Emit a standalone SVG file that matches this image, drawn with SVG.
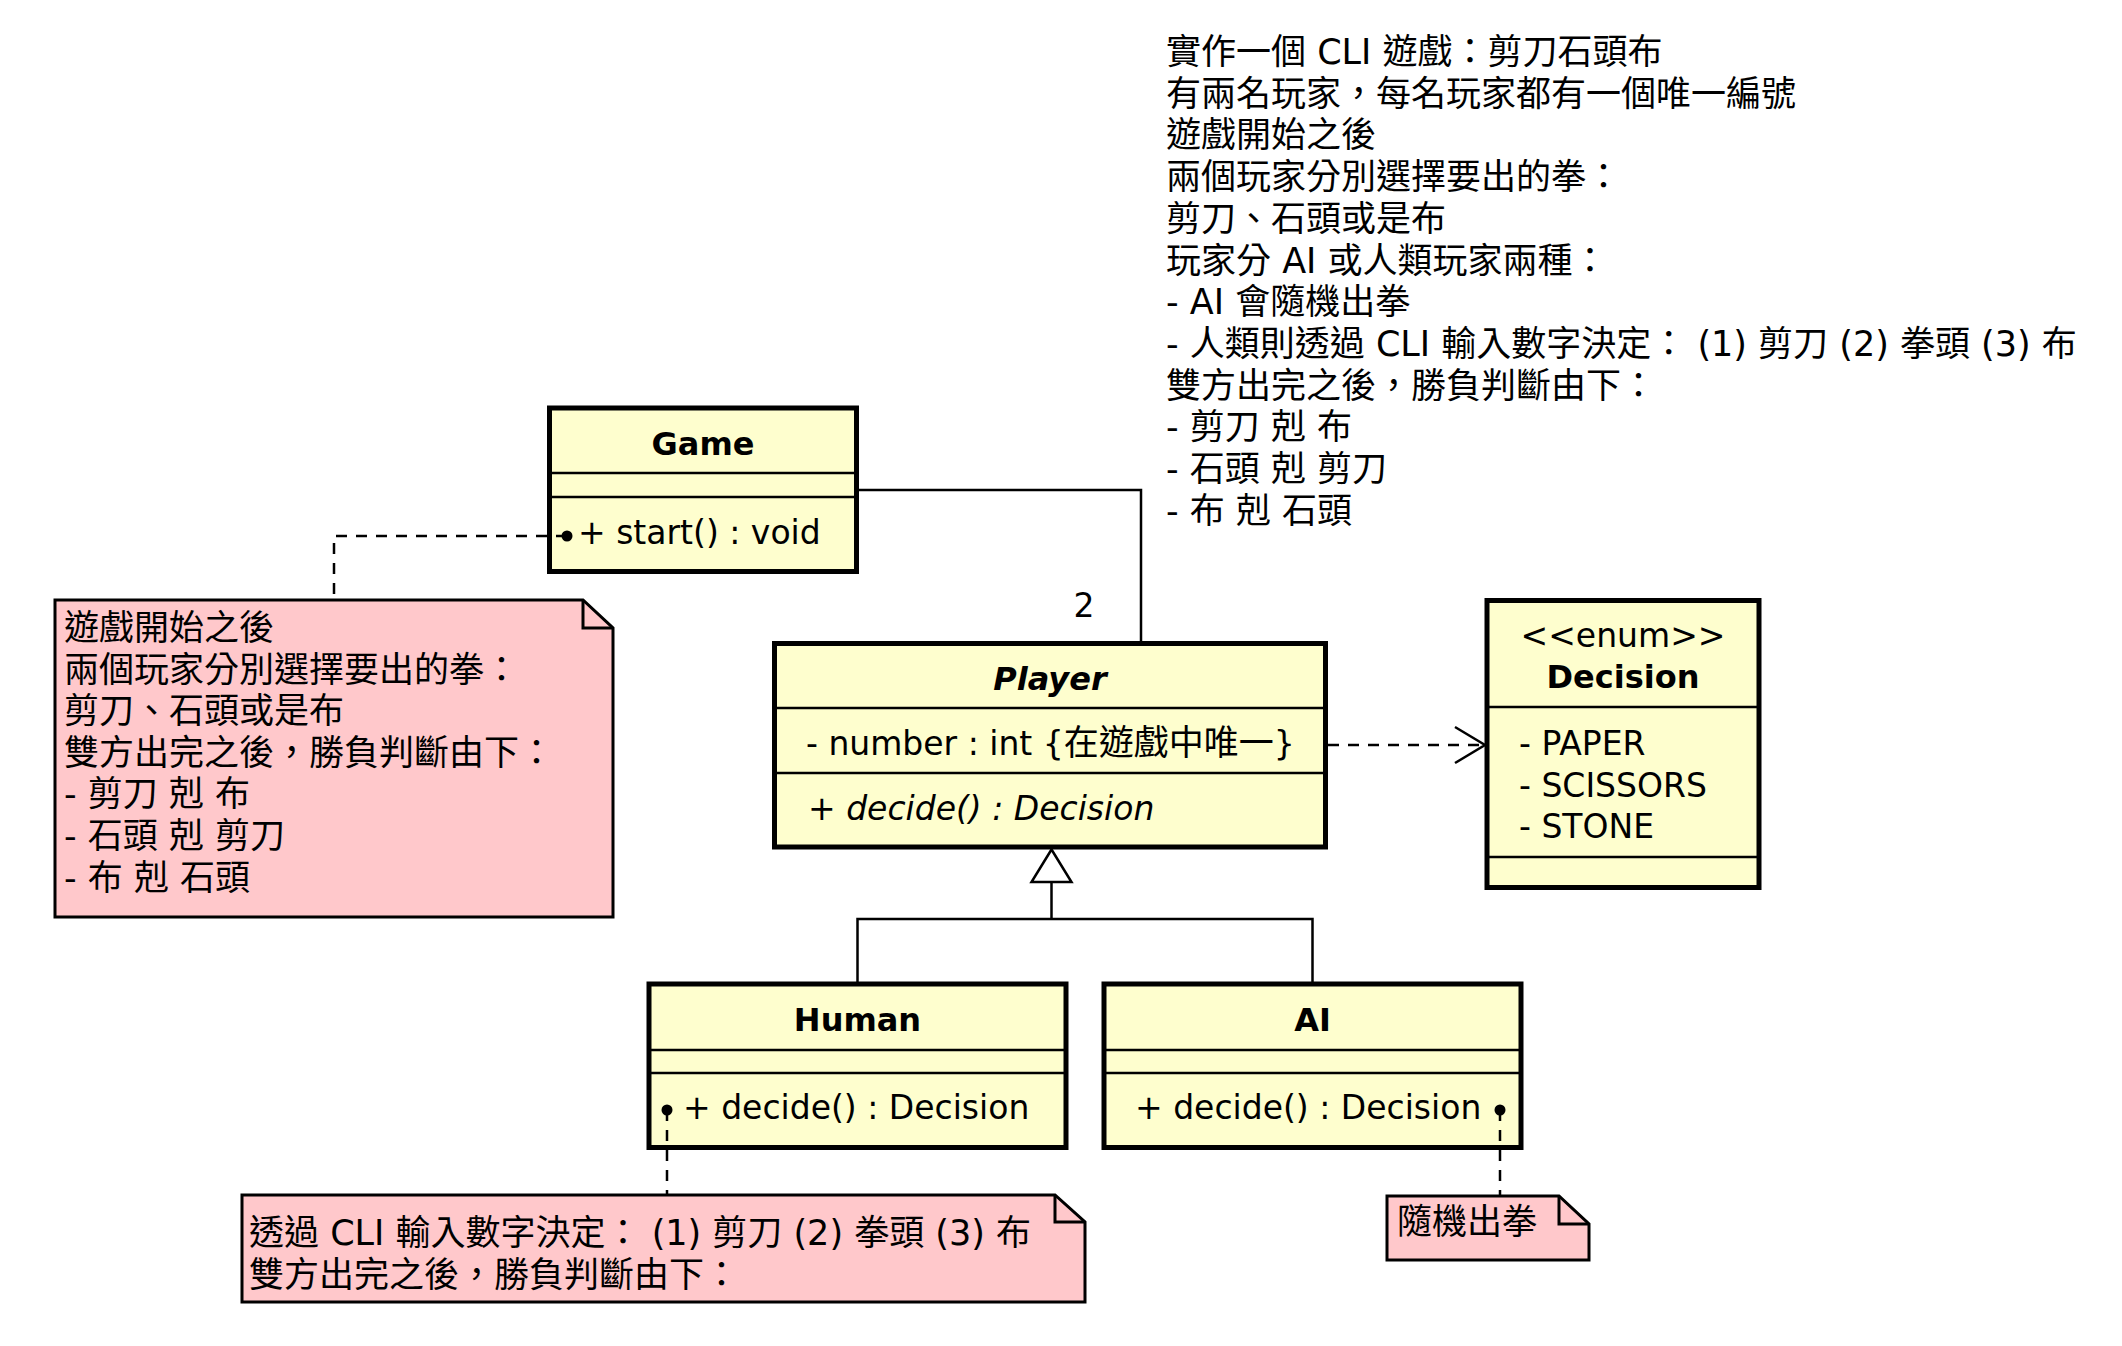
<svg xmlns="http://www.w3.org/2000/svg" width="2122" height="1346" viewBox="0 0 2122 1346">
<defs>
<style>
.box{fill:#FEFECE;stroke:#000;stroke-width:5}
.div{stroke:#000;stroke-width:2.5}
.note{fill:#FFC8CB;stroke:#000;stroke-width:3}
.fold{fill:none;stroke:#000;stroke-width:3}
.t{font-family:"DejaVu Sans","Noto Sans CJK TC",sans-serif;font-size:33px;fill:#000}
.b{font-weight:bold;font-size:32px}
.i{font-style:italic}
.c{text-anchor:middle}
.n{font-family:"DejaVu Sans","Noto Sans CJK TC",sans-serif;font-size:35px;fill:#000}
.k{font-family:"Noto Sans CJK TC",sans-serif;font-size:35px}
.line{fill:none;stroke:#000;stroke-width:2.5}
.dash{fill:none;stroke:#000;stroke-width:2.5;stroke-dasharray:11 9}
</style>
</defs>
<rect width="2122" height="1346" fill="#fff"/>

<g id="requirements" class="n">
<text x="1166" y="64">實作一個 CLI 遊戲：剪刀石頭布</text>
<text x="1166" y="105.7">有兩名玩家，每名玩家都有一個唯一編號</text>
<text x="1166" y="147.4">遊戲開始之後</text>
<text x="1166" y="189.1">兩個玩家分別選擇要出的拳：</text>
<text x="1166" y="230.8">剪刀、石頭或是布</text>
<text x="1166" y="272.5">玩家分 AI 或人類玩家兩種：</text>
<text x="1166" y="314.2">- AI 會隨機出拳</text>
<text x="1166" y="355.9">- 人類則透過 CLI 輸入數字決定： (1) 剪刀 (2) 拳頭 (3) 布</text>
<text x="1166" y="397.6">雙方出完之後，勝負判斷由下：</text>
<text x="1166" y="439.3">- 剪刀 剋 布</text>
<text x="1166" y="481">- 石頭 剋 剪刀</text>
<text x="1166" y="522.7">- 布 剋 石頭</text>
</g>

<g id="Game">
<rect class="box" x="549.5" y="408" width="307" height="163.5"/>
<line class="div" x1="549.5" y1="473" x2="856.5" y2="473"/>
<line class="div" x1="549.5" y1="497" x2="856.5" y2="497"/>
<text class="t b c" x="703" y="455">Game</text>
<text class="t" x="578" y="544">+ start() : void</text>
</g>

<g id="Player">
<rect class="box" x="774.5" y="643.5" width="551" height="203.5"/>
<line class="div" x1="774.5" y1="708" x2="1325.5" y2="708"/>
<line class="div" x1="774.5" y1="773" x2="1325.5" y2="773"/>
<text class="t b i c" x="1050" y="690">Player</text>
<text class="t" x="806" y="755">- number : int {<tspan class="k">在遊戲中唯一</tspan>}</text>
<text class="t i" x="808" y="820">+ decide() : Decision</text>
</g>

<g id="Decision">
<rect class="box" x="1487" y="600.5" width="272" height="287"/>
<line class="div" x1="1487" y1="707" x2="1759" y2="707"/>
<line class="div" x1="1487" y1="857" x2="1759" y2="857"/>
<text class="t c" x="1623" y="647">&lt;&lt;enum&gt;&gt;</text>
<text class="t b c" x="1623" y="688">Decision</text>
<text class="t" x="1519" y="755">- PAPER</text>
<text class="t" x="1519" y="796.5">- SCISSORS</text>
<text class="t" x="1519" y="838">- STONE</text>
</g>

<g id="Human">
<rect class="box" x="649" y="984" width="417" height="163.5"/>
<line class="div" x1="649" y1="1050" x2="1066" y2="1050"/>
<line class="div" x1="649" y1="1073" x2="1066" y2="1073"/>
<text class="t b c" x="857.5" y="1031">Human</text>
<text class="t" x="683" y="1119">+ decide() : Decision</text>
</g>

<g id="AI">
<rect class="box" x="1104" y="984" width="417" height="163.5"/>
<line class="div" x1="1104" y1="1050" x2="1521" y2="1050"/>
<line class="div" x1="1104" y1="1073" x2="1521" y2="1073"/>
<text class="t b c" x="1312.5" y="1031">AI</text>
<text class="t" x="1135" y="1119">+ decide() : Decision</text>
</g>

<g id="note-game">
<path class="note" d="M55,600 H583 L613,628 V917 H55 Z"/>
<path class="fold" d="M583,600 V628 H613"/>
<g class="n">
<text x="64" y="640">遊戲開始之後</text>
<text x="64" y="681.6">兩個玩家分別選擇要出的拳：</text>
<text x="64" y="723.2">剪刀、石頭或是布</text>
<text x="64" y="764.8">雙方出完之後，勝負判斷由下：</text>
<text x="64" y="806.4">- 剪刀 剋 布</text>
<text x="64" y="848">- 石頭 剋 剪刀</text>
<text x="64" y="889.6">- 布 剋 石頭</text>
</g>
</g>

<g id="note-human">
<path class="note" d="M242,1195 H1055 L1085,1222 V1302 H242 Z"/>
<path class="fold" d="M1055,1195 V1222 H1085"/>
<g class="n">
<text x="249" y="1245">透過 CLI 輸入數字決定： (1) 剪刀 (2) 拳頭 (3) 布</text>
<text x="249" y="1287">雙方出完之後，勝負判斷由下：</text>
</g>
</g>

<g id="note-ai">
<path class="note" d="M1387,1196 H1559 L1589,1224 V1260 H1387 Z"/>
<path class="fold" d="M1559,1196 V1224 H1589"/>
<text class="n" x="1397" y="1234">隨機出拳</text>
</g>

<g id="connectors">
<polyline class="line" points="856.5,490 1141,490 1141,643.5"/>
<text class="t c" x="1084" y="617">2</text>
<line class="dash" x1="1328" y1="745" x2="1483" y2="745"/>
<polyline class="line" points="1455,727 1485,745 1455,763"/>
<polyline class="line" points="857.5,983 857.5,919 1312.5,919 1312.5,983"/>
<line class="line" x1="1051.5" y1="882" x2="1051.5" y2="919"/>
<polygon points="1051.5,849.5 1031.5,882 1071.5,882" fill="#fff" stroke="#000" stroke-width="2.5"/>
<path class="dash" d="M567,536 H334 V600"/>
<circle cx="567" cy="536" r="5.5" fill="#000"/>
<path class="dash" d="M667,1110 V1195"/>
<circle cx="667" cy="1110" r="5.5" fill="#000"/>
<path class="dash" d="M1500,1110 V1196"/>
<circle cx="1500" cy="1110" r="5.5" fill="#000"/>
</g>
</svg>
